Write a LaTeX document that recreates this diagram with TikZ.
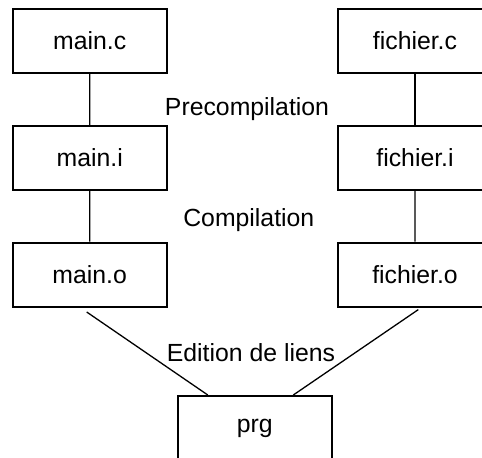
\documentclass[tikz,border=0pt]{standalone}
\usepackage{fontspec}
\setmainfont{Liberation Sans}

\begin{document}
\begin{tikzpicture}[x=0.5pt, y=-0.5pt,
every node/.style={font=\fontsize{12.4}{14}\selectfont},
boite/.style={shape=rectangle, draw, line width=1pt, minimum width=77pt, minimum height=32pt, inner sep=0pt},
edge from parent/.style={draw, line width=0.65pt}]
\useasboundingbox (0,0) rectangle (482,457);
\clip (0,0) rectangle (482,457);
\path [draw, line width=0.65pt]
[grow=down, level distance=58.4pt]
(89.7,41) node(mainc)[boite]{main.c}
child{node(maini)[boite]{main.i}
child{node(maino)[boite]{main.o}}
};
\path [draw, line width=0.65pt]
[grow=down, level distance=58.4pt]
(415,41) node(fichierc)[boite]{fichier.c}
child{node(fichieri)[boite]{fichier.i}
child{node(fichiero)[boite]{fichier.o}}
};
\node(prg)[boite] at (254.8,428){prg};
\node(precomp)[anchor=base] at (247,115){Precompilation};
\node(comp)[anchor=base] at (248.8,226.7){Compilation};
\node(edition)[anchor=base] at (251,361.7){Edition de liens};
\draw[line width=0.65pt] ([shift={(-3,4.4)}]maino.south) -- ([shift={(-47,0)}]prg.north);
\draw[line width=0.65pt] ([shift={(3.3,2)}]fichiero.south) -- ([shift={(38.5,0)}]prg.north);
\end{tikzpicture}
\end{document}
